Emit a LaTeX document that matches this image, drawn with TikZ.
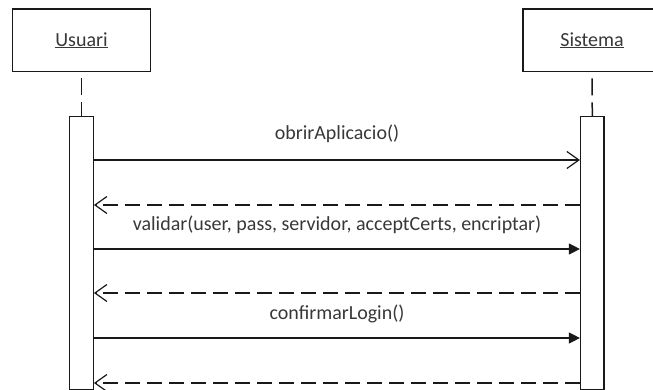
\documentclass[tikz,border=0pt]{standalone}
\usepackage{fontspec}
\setmainfont{Carlito}
\usetikzlibrary{arrows.meta}
\begin{document}
\begin{tikzpicture}[x=1pt,y=-1pt,
  lbl/.style={font=\fontsize{20}{24}\selectfont, text=black!78},
  obj/.style={draw=black!90, line width=1.6pt, minimum width=138pt, minimum height=62.5pt, inner sep=0pt, lbl},
  actbar/.style={draw=black!90, line width=1.3pt, fill=white, minimum width=23.5pt, minimum height=273pt, inner sep=0pt, anchor=north},
  life/.style={draw=black!90, line width=1.5pt, dash pattern=on 17pt off 7pt, dash phase=18pt},
  callmsg/.style={draw=black!90, line width=1.3pt, -{Triangle[length=11pt,width=11pt]}},
  asyncmsg/.style={draw=black!90, line width=1.3pt, -{Straight Barb[length=12pt,width=17pt,line width=1.2pt]}},
  retmsg/.style={draw=black!90, line width=1.3pt, dash pattern=on 15pt off 7pt, -{Straight Barb[length=12pt,width=17pt,line width=1.2pt]}},
  msg/.style={lbl, anchor=base, inner sep=0pt}]
\useasboundingbox (0,0) rectangle (653,390);
\node[obj] (u) at (81.5,40.3) {\underline{Usuari}};
\node[obj] (s) at (592,40.3) {\underline{Sistema}};
\node[actbar] (ua) at (81.5,116) {};
\node[actbar] (sa) at (592.3,116) {};
\draw[life] (u.south) -- (ua.north);
\draw[life] (s.south) -- (sa.north);
\coordinate (y1) at (0,160);
\coordinate (y2) at (0,205);
\coordinate (y3) at (0,249);
\coordinate (y4) at (0,293);
\coordinate (y5) at (0,338);
\coordinate (y6) at (0,383);
\draw[asyncmsg] (ua.east |- y1) -- (sa.west |- y1);
\draw[retmsg] (sa.west |- y2) -- (ua.east |- y2);
\draw[callmsg] (ua.east |- y3) -- (sa.west |- y3);
\draw[retmsg] (sa.west |- y4) -- (ua.east |- y4);
\draw[callmsg] (ua.east |- y5) -- (sa.west |- y5);
\draw[retmsg] (sa.west |- y6) -- (ua.east |- y6);
\node[msg] (l1) at (337,140) {obrirAplicacio()};
\node[msg] (l2) at (337,230.5) {validar(user, pass, servidor, acceptCerts, encriptar)};
\node[msg] (l3) at (337,319) {confirmarLogin()};
\end{tikzpicture}
\end{document}
